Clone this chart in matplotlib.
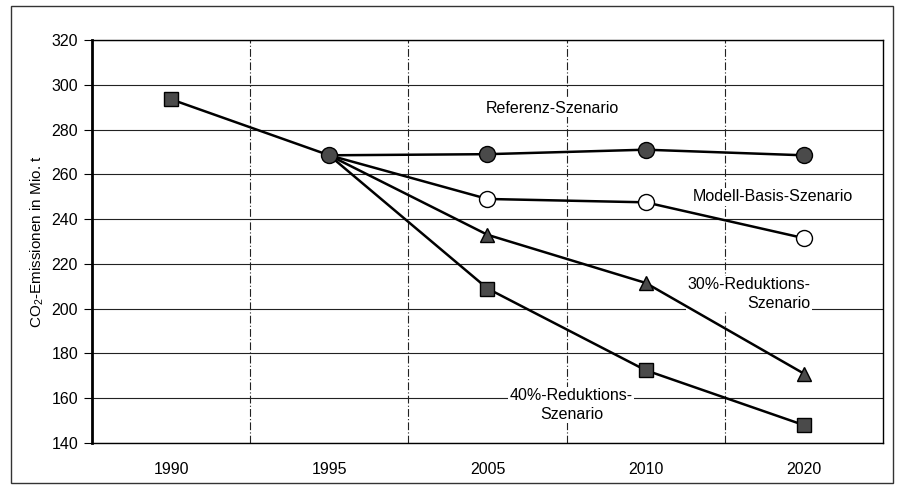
import matplotlib.pyplot as plt
from matplotlib.patches import Rectangle
import numpy as np

plt.rcParams['font.family'] = ['Liberation Sans', 'DejaVu Sans']
plt.rcParams['mathtext.default'] = 'regular'

# Data
years = ['1990', '1995', '2005', '2010', '2020']
history = [293.5, 268.5]                      # 1990, 1995
referenz = [268.5, 269, 271, 268.5]           # 1995 .. 2020
modell_basis = [268.5, 249, 247.5, 231.5]
red_30 = [268.5, 233, 211.5, 171]
red_40 = [268.5, 209, 172.5, 148]

x = np.arange(len(years))
xs = x[1:]

fig = plt.figure(figsize=(8.98, 4.87), dpi=100)
ax = fig.add_axes([0.1024, 0.0903, 0.8809, 0.8276])

# grid: solid horizontal, dash-dot vertical at category borders
for yv in np.arange(140, 321, 20):
    ax.axhline(yv, color='#222222', lw=0.8, zorder=1)
for xb in x[:-1] + 0.5:
    ax.axvline(xb, color='#222222', lw=0.8, ls=(0, (7, 2, 1, 2)), zorder=1)

dark = '#4a4a4a'
lw = 1.8
ax.plot(x[:2], history, color='black', lw=lw, zorder=3)
ax.plot(xs, referenz, color='black', lw=lw, zorder=3)
ax.plot(xs, modell_basis, color='black', lw=lw, zorder=3)
ax.plot(xs, red_30, color='black', lw=lw, zorder=3)
ax.plot(xs, red_40, color='black', lw=lw, zorder=3)

# markers
ax.plot(x[0], history[0], ls='none', marker='s', ms=10.5, mfc=dark, mec='black', mew=1, zorder=4)
ax.plot(xs, referenz, ls='none', marker='o', ms=11.5, mfc=dark, mec='black', mew=1, zorder=4)
ax.plot(xs[1:], modell_basis[1:], ls='none', marker='o', ms=11.5, mfc='white', mec='black', mew=1, zorder=4)
ax.plot(xs[1:], red_30[1:], ls='none', marker='^', ms=10.5, mfc=dark, mec='black', mew=1, zorder=4)
ax.plot(xs[1:], red_40[1:], ls='none', marker='s', ms=10.5, mfc=dark, mec='black', mew=1, zorder=4)

# series labels
box = dict(facecolor='white', edgecolor='none', pad=1)
fs = 11.5
ax.text(2.41, 289.6, 'Referenz-Szenario', ha='center', va='center', fontsize=fs, bbox=box, zorder=2)
ax.text(3.805, 250, 'Modell-Basis-Szenario', ha='center', va='center', fontsize=fs, bbox=box, zorder=2)
ax.text(4.04, 206.6, '30%-Reduktions-\nSzenario', ha='right', va='center', fontsize=fs,
        multialignment='right', linespacing=1.3, bbox=box, zorder=2)
ax.text(2.53, 157, '40%-Reduktions-\nSzenario', ha='center', va='center', fontsize=fs,
        multialignment='center', linespacing=1.3, bbox=box, zorder=2)

ax.set_xlim(-0.5, len(years) - 0.5)
ax.set_ylim(140, 320)
ax.set_yticks(np.arange(140, 321, 20))
ax.set_xticks(x)
ax.set_xticklabels(years)
ax.tick_params(axis='x', length=0, pad=14, labelsize=fs)
ax.tick_params(axis='y', length=6, width=0.8, direction='out', pad=4, labelsize=fs)
ax.set_ylabel('CO$_2$-Emissionen in Mio. t', fontsize=11, labelpad=4)

ax.spines['left'].set_linewidth(2)
for s in ['right', 'top', 'bottom']:
    ax.spines[s].set_linewidth(1)

# outer frame of the figure
fig.patches.append(Rectangle((0.012, 0.008), 0.982, 0.98, transform=fig.transFigure,
                             fill=False, edgecolor='#333333', lw=1))

fig.savefig('out.png', dpi=100)
